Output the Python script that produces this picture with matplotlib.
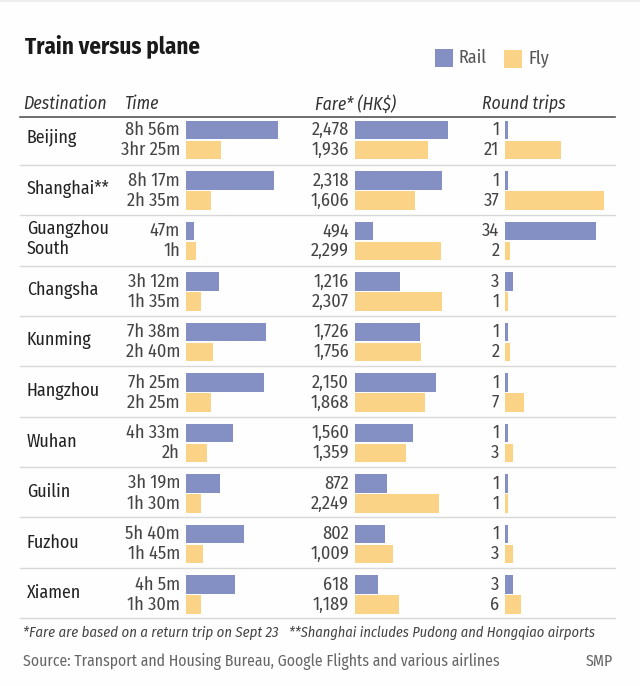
import matplotlib
matplotlib.use("Agg")
import matplotlib.pyplot as plt
from matplotlib import font_manager

# data
cities = ["Beijing", "Shanghai**", "Guangzhou\nSouth", "Changsha", "Kunming",
          "Hangzhou", "Wuhan", "Guilin", "Fuzhou", "Xiamen"]
rail_time = [536, 513, 47, 197, 465, 455, 273, 199, 340, 285]
fly_time = [203, 150, 60, 90, 160, 145, 125, 88, 102, 90]
rail_time_labels = ["8h 56m", "8h 17m", "47m", "3h 12m", "7h 38m",
                    "7h 25m", "4h 33m", "3h 19m", "5h 40m", "4h 5m"]
fly_time_labels = ["3hr 25m", "2h 35m", "1h", "1h 35m", "2h 40m",
                   "2h 25m", "2h", "1h 30m", "1h 45m", "1h 30m"]
rail_fare = [2478, 2318, 494, 1216, 1726, 2150, 1560, 872, 802, 618]
fly_fare = [1936, 1606, 2299, 2307, 1756, 1868, 1359, 2249, 1009, 1189]
rail_trips = [1, 1, 34, 3, 1, 1, 1, 1, 1, 3]
fly_trips = [21, 37, 2, 1, 2, 7, 3, 1, 3, 6]

RAIL = "#8490C4"
FLY = "#FBD387"
W, H = 640, 686

# condensed face if the machine has one, otherwise shrink Roboto to fit
names = {f.name for f in font_manager.fontManager.ttflist}
fs = 0.86
base = "Roboto"
for cand in ["Fira Sans Condensed", "Roboto Condensed", "Open Sans Condensed", "PT Sans Narrow", "Archivo Narrow", "Abel"]:
    if cand in names:
        base = cand
        fs = 1.0
        break
plt.rcParams["font.family"] = [base, "Roboto", "DejaVu Sans"]

fig = plt.figure(figsize=(W / 100, H / 100), dpi=100, facecolor="#FEFEFE")

# overlay in pixel coords for the text and rules
bg = fig.add_axes([0, 0, 1, 1])
bg.set_xlim(0, W)
bg.set_ylim(H, 0)
bg.axis("off")

row_h = 50.5
top = 115
n = len(cities)

bg.axhspan(0, 2, color="#EDEDED", lw=0)
bg.plot([20, 615], [117, 117], color="#555555", lw=1.2)
for i in range(n):
    y = 165 + i * 50.33
    bg.plot([20, 615], [y, y], color="#D8D8D8", lw=1)

bg.text(25, 46, "Train versus plane", fontsize=16.5 * fs, fontweight="bold", color="#1A1A1A", va="center")

heads = [(23, "Destination"), (125, "Time"), (315, "Fare* (HK$)"), (482, "Round trips")]
for x, s in heads:
    bg.text(x, 104, s, fontsize=12.7 * fs, style="italic", color="#333333", va="center")

# legend
bg.barh(58, 18, left=435, height=18, color=RAIL)
bg.barh(59, 18, left=504, height=18, color=FLY)
bg.text(459, 58, "Rail", fontsize=13 * fs, color="#555555", va="center")
bg.text(528, 59, "Fly", fontsize=13 * fs, color="#555555", va="center")


def panel(x0, x1, xmax, rail, fly, rail_labels, fly_labels):
    # one axes per column, y in row units
    ax = fig.add_axes([x0 / W, 1 - (top + n * row_h) / H, (x1 - x0) / W, n * row_h / H])
    ax.set_xlim(0, xmax)
    ax.set_ylim(n, 0)
    ax.axis("off")
    ax.patch.set_alpha(0)
    for i in range(n):
        ax.barh(i + 0.30, rail[i], height=0.365, color=RAIL)
        ax.barh(i + 0.69, fly[i], height=0.365, color=FLY)
        ax.annotate(rail_labels[i], (0, i + 0.30), xytext=(-4, 0), textcoords="offset points",
                    ha="right", va="center", fontsize=13.2 * fs, color="#444444")
        ax.annotate(fly_labels[i], (0, i + 0.69), xytext=(-4, 0), textcoords="offset points",
                    ha="right", va="center", fontsize=13.2 * fs, color="#444444")


panel(185.5, 278, 536, rail_time, fly_time, rail_time_labels, fly_time_labels)
panel(354.5, 448, 2478, rail_fare, fly_fare,
      [f"{v:,}" for v in rail_fare], [f"{v:,}" for v in fly_fare])
panel(505, 604, 37, rail_trips, fly_trips,
      [str(v) for v in rail_trips], [str(v) for v in fly_trips])

for i, c in enumerate(cities):
    bg.text(27, 138 + i * 50.55, c, fontsize=12.9 * fs, color="#222222", va="center",
            linespacing=1.15)

bg.text(23, 633, "*Fare are based on a return trip on Sept 23", fontsize=10.6 * fs, style="italic",
        color="#444444", va="center")
bg.text(289, 633, "**Shanghai includes Pudong and Hongqiao airports", fontsize=10.4 * fs, style="italic",
        color="#444444", va="center")
bg.text(23, 661, "Source: Transport and Housing Bureau, Google Flights and various airlines",
        fontsize=11.3 * fs, color="#666666", va="center")
bg.text(613, 661, "SMP", fontsize=11.3 * fs, color="#666666", va="center", ha="right")

fig.savefig("out.png", dpi=100, facecolor=fig.get_facecolor())
